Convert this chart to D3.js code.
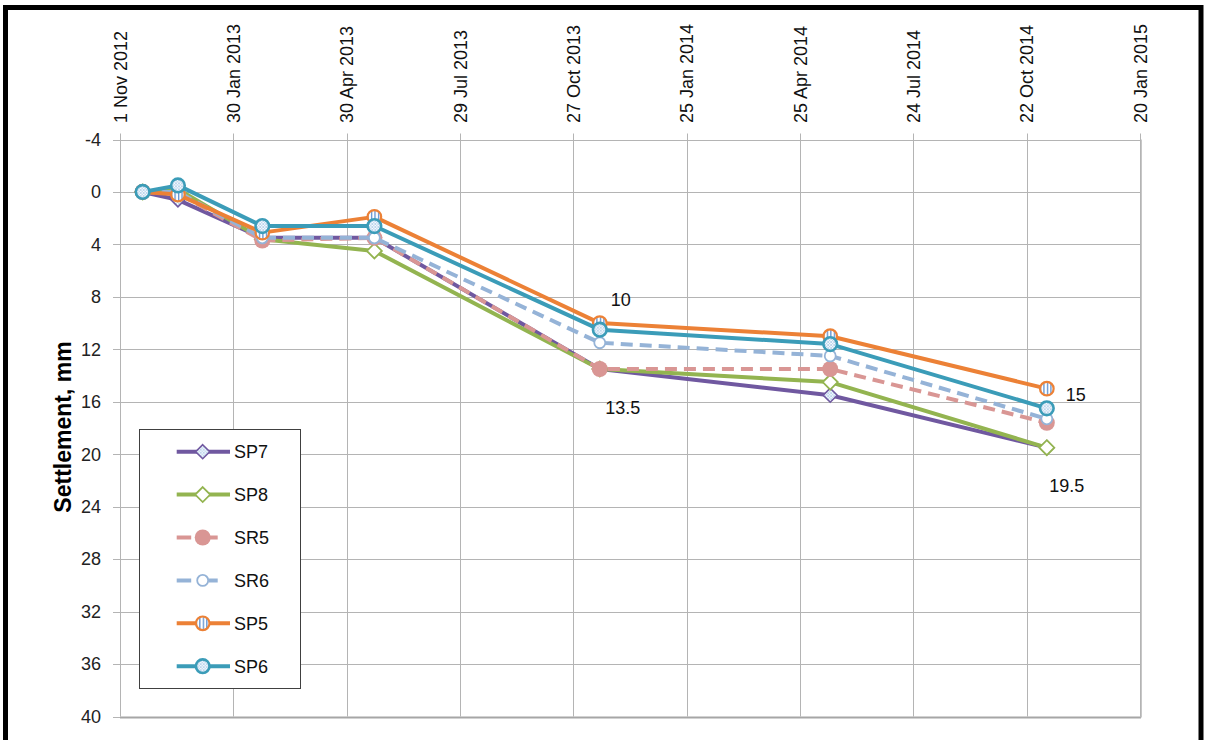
<!DOCTYPE html>
<html>
<head>
<meta charset="utf-8">
<script src="https://cdn.jsdelivr.net/npm/d3@7"></script>
<style>
  html, body { margin: 0; padding: 0; background: #fff; }
  svg { display: block; font-family: "Liberation Sans", Arial, sans-serif; }
</style>
</head>
<body>
<svg id="chart" width="1206" height="740"></svg>
<script>
// Survey dates and settlement readings (mm) per monitoring point
const surveyDates = ["2012-11-19", "2012-12-17", "2013-02-22", "2013-05-22", "2013-11-17", "2014-05-19", "2014-11-07"];
const SP7 = [0, 0.6, 3.5, 3.5, 13.5, 15.5, 19.5];
const SP8 = [0, -0.2, 3.6, 4.5, 13.5, 14.5, 19.5];
const SR5 = [0, 0.1, 3.7, 3.5, 13.5, 13.5, 17.6];
const SR6 = [0, 0, 3.5, 3.5, 11.5, 12.5, 17.3];
const SP5 = [0, 0.2, 3.1, 1.9, 10, 11, 15];
const SP6 = [0, -0.5, 2.6, 2.6, 10.5, 11.6, 16.5];

// Axis ticks
const dateTickLabels = ["1 Nov 2012", "30 Jan 2013", "30 Apr 2013", "29 Jul 2013", "27 Oct 2013",
                        "25 Jan 2014", "25 Apr 2014", "24 Jul 2014", "22 Oct 2014", "20 Jan 2015"];
const settlementTicks = [-4, 0, 4, 8, 12, 16, 20, 24, 28, 32, 36, 40];

// Value call-outs: [series name, point index, text]
const callouts = [
  ["SP5", 4, "10"], ["SP7", 4, "13.5"], ["SP5", 6, "15"], ["SP8", 6, "19.5"]
];

const parseIso = d3.utcParse("%Y-%m-%d");
const parseTick = d3.utcParse("%d %b %Y");
const dates = surveyDates.map(parseIso);
const tickDates = dateTickLabels.map(parseTick);

const series = [
  { name: "SP7", values: SP7, color: "#7058a0", dash: null, marker: "diamondDot" },
  { name: "SP8", values: SP8, color: "#93b450", dash: null, marker: "diamondOpen" },
  { name: "SR5", values: SR5, color: "#d99694", dash: "12,7", marker: "circleFill" },
  { name: "SR6", values: SR6, color: "#95b3d7", dash: "12,7", marker: "circleOpen" },
  { name: "SP5", values: SP5, color: "#ec8136", dash: null, marker: "circleStripe" },
  { name: "SP6", values: SP6, color: "#3b9cb8", dash: null, marker: "circleDot" }
];

const svg = d3.select("#chart");
const plot = { left: 120, right: 1140, top: 139.5, bottom: 716.5 };

const x = d3.scaleUtc().domain([tickDates[0], tickDates[tickDates.length - 1]]).range([plot.left, plot.right]);
const y = d3.scaleLinear().domain([-4, 40]).range([plot.top, plot.bottom]);

// Fill patterns for the markers
const defs = svg.append("defs");
const dots = defs.append("pattern").attr("id", "dots").attr("patternUnits", "userSpaceOnUse")
  .attr("width", 3).attr("height", 3);
dots.append("rect").attr("width", 3).attr("height", 3).attr("fill", "#fff");
dots.append("circle").attr("cx", 1).attr("cy", 1).attr("r", 0.8).attr("fill", "#6aa3d8");
dots.append("circle").attr("cx", 2.5).attr("cy", 2.5).attr("r", 0.6).attr("fill", "#9cc3e6");
const stripes = defs.append("pattern").attr("id", "stripes").attr("patternUnits", "userSpaceOnUse")
  .attr("width", 3.5).attr("height", 4);
stripes.append("rect").attr("width", 3.5).attr("height", 4).attr("fill", "#fff");
stripes.append("rect").attr("x", 0).attr("width", 1.3).attr("height", 4).attr("fill", "#5d8fcf");

// Outer frame
svg.append("rect").attr("x", 5.5).attr("y", 7.5).attr("width", 1195.5).attr("height", 760)
  .attr("fill", "none").attr("stroke", "#000").attr("stroke-width", 5);

// Grid
const grid = svg.append("g");
grid.selectAll("line.h").data(settlementTicks).join("line")
  .attr("x1", plot.left - 7).attr("x2", plot.right)
  .attr("y1", d => Math.round(y(d)) + 0.5).attr("y2", d => Math.round(y(d)) + 0.5)
  .attr("stroke", "#b4b4b4").attr("stroke-width", 1);
grid.selectAll("line.v").data(tickDates).join("line")
  .attr("x1", d => Math.round(x(d)) + 0.5).attr("x2", d => Math.round(x(d)) + 0.5)
  .attr("y1", plot.top - 6).attr("y2", plot.bottom)
  .attr("stroke", "#b4b4b4").attr("stroke-width", 1);
// Plot area edges
svg.append("line").attr("x1", plot.left).attr("x2", plot.right + 1)
  .attr("y1", Math.round(y(40)) + 0.5).attr("y2", Math.round(y(40)) + 0.5)
  .attr("stroke", "#a6a6a6").attr("stroke-width", 2);
svg.append("line").attr("x1", Math.round(x(tickDates[9])) + 1).attr("x2", Math.round(x(tickDates[9])) + 1)
  .attr("y1", plot.top).attr("y2", plot.bottom + 1)
  .attr("stroke", "#b4b4b4").attr("stroke-width", 1.5);

// Y tick labels
svg.append("g").selectAll("text").data(settlementTicks).join("text")
  .attr("x", plot.left - 19).attr("y", d => y(d))
  .attr("dy", "0.35em").attr("text-anchor", "end")
  .attr("font-size", 18).attr("fill", "#222")
  .text(d => d);

// Top date labels
svg.append("g").selectAll("text").data(tickDates).join("text")
  .attr("transform", (d) => `translate(${x(d) + 0.5},123) rotate(-90)`)
  .attr("dy", "0.35em").attr("text-anchor", "start")
  .attr("font-size", 18).attr("fill", "#111")
  .text((d, i) => dateTickLabels[i]);

// Y axis title
svg.append("text")
  .attr("transform", "translate(63,427) rotate(-90)")
  .attr("text-anchor", "middle").attr("dy", "0.35em")
  .attr("font-size", 23).attr("font-weight", "bold").attr("fill", "#000")
  .text("Settlement, mm");

// Marker drawing
function drawMarker(g, kind, color) {
  const dia = (s) => `M0,${-s}L${s},0L0,${s}L${-s},0Z`;
  switch (kind) {
    case "diamondDot":
      g.append("path").attr("d", dia(7)).attr("fill", "url(#dots)").attr("stroke", color).attr("stroke-width", 1.6);
      break;
    case "diamondOpen":
      g.append("path").attr("d", dia(7.5)).attr("fill", "#fff").attr("stroke", color).attr("stroke-width", 1.8);
      break;
    case "circleFill":
      g.append("circle").attr("r", 8).attr("fill", color);
      break;
    case "circleOpen":
      g.append("circle").attr("r", 5.5).attr("fill", "#fff").attr("stroke", color).attr("stroke-width", 1.8);
      break;
    case "circleStripe":
      g.append("circle").attr("r", 6.8).attr("fill", "url(#stripes)").attr("stroke", color).attr("stroke-width", 2.2);
      break;
    case "circleDot":
      g.append("circle").attr("r", 6.8).attr("fill", "url(#dots)").attr("stroke", color).attr("stroke-width", 2.6);
      break;
  }
}

const line = d3.line().x((d, i) => x(dates[i])).y(d => y(d));

// Series lines and markers, drawn in order so SP6 sits on top
series.forEach(s => {
  const g = svg.append("g");
  g.append("path").datum(s.values).attr("d", line)
    .attr("fill", "none").attr("stroke", s.color).attr("stroke-width", 4)
    .attr("stroke-linejoin", "round")
    .attr("stroke-dasharray", s.dash);
  s.values.forEach((v, i) => {
    const m = g.append("g").attr("transform", `translate(${x(dates[i])},${y(v)})`);
    drawMarker(m, s.marker, s.color);
  });
});

// Value call-outs
const byName = Object.fromEntries(series.map(s => [s.name, s]));
const calloutOffsets = { "10": [21, -23], "13.5": [23, 39], "15": [29, 6], "19.5": [20, 38] };
svg.append("g").selectAll("text").data(callouts).join("text")
  .attr("x", d => x(dates[d[1]]) + calloutOffsets[d[2]][0])
  .attr("y", d => y(byName[d[0]].values[d[1]]) + calloutOffsets[d[2]][1])
  .attr("text-anchor", "middle").attr("dy", "0.35em")
  .attr("font-size", 18).attr("fill", "#111")
  .text(d => d[2]);

// Legend
const legend = svg.append("g");
legend.append("rect").attr("x", 139.5).attr("y", 429.5).attr("width", 161).attr("height", 259)
  .attr("fill", "#fff").attr("stroke", "#404040").attr("stroke-width", 1);
series.forEach((s, i) => {
  const cy = 451.7 + i * 42.9;
  const item = legend.append("g");
  item.append("line").attr("x1", 176.7).attr("x2", s.dash ? 218 : 230)
    .attr("y1", cy).attr("y2", cy)
    .attr("stroke", s.color).attr("stroke-width", 4)
    .attr("stroke-dasharray", s.dash ? "14.5,17.5,9" : null);
  const m = item.append("g").attr("transform", `translate(202.7,${cy})`);
  drawMarker(m, s.marker, s.color);
  item.append("text").attr("x", 234).attr("y", cy).attr("dy", "0.35em")
    .attr("font-size", 18).attr("fill", "#111").text(s.name);
});
</script>
</body>
</html>
